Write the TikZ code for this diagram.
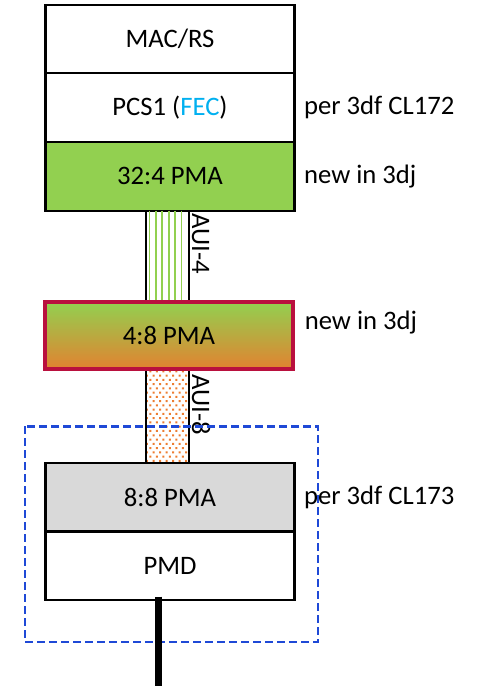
\documentclass[tikz,border=0pt]{standalone}
\usepackage{fontspec}
\setmainfont{Carlito}
\usepackage{xcolor}
\usetikzlibrary{positioning, patterns}

\definecolor{pmagreen}{RGB}{146,208,80}
\definecolor{pmaorange}{RGB}{226,130,48}
\definecolor{pmared}{RGB}{185,16,62}
\definecolor{feccyan}{RGB}{0,176,240}
\definecolor{pmagray}{RGB}{217,217,217}
\definecolor{dotorange}{RGB}{237,125,49}
\definecolor{modblue}{RGB}{31,73,214}

% staggered square dots for the AUI-8 link
\pgfdeclarepatternformonly{auidots}{\pgfqpoint{-1pt}{-1pt}}{\pgfqpoint{5pt}{6pt}}
  {\pgfqpoint{4.9pt}{6.4pt}}
  {\pgfpathrectangle{\pgfqpoint{-0.75pt}{-0.75pt}}{\pgfqpoint{1.5pt}{1.5pt}}
   \pgfpathrectangle{\pgfqpoint{1.7pt}{2.45pt}}{\pgfqpoint{1.5pt}{1.5pt}}
   \pgfusepath{fill}}

\begin{document}
\begin{tikzpicture}[
  x=0.75pt, y=0.75pt,
  node distance=0pt,
  layer/.style={rectangle, draw, line width=1.6pt, fill=white,
                minimum width=186.75pt, minimum height=51.5pt,
                outer sep=0pt, inner sep=0pt,
                font=\fontsize{20}{24}\selectfont},
  note/.style={inner sep=0pt, font=\fontsize{20}{24}\selectfont},
  aui/.style={rectangle, inner sep=0pt, outer sep=0pt, minimum width=32.25pt},
  auiline/.style={line width=1.6pt},
  auilabel/.style={rotate=-90, anchor=south west, inner sep=2pt,
                   font=\fontsize{20}{24}\selectfont},
  modbox/.style={modblue, line width=2pt, dash pattern=on 6pt off 3pt},
  cable/.style={line width=5.25pt}
]
\useasboundingbox (0,0) rectangle (482,-687);

% layer stack
\node[layer] (mac) at (170,-39) {MAC/RS};
\node[layer, below=of mac] (pcs) {PCS1 (\textcolor{feccyan}{FEC})};
\node[layer, fill=pmagreen, below=of pcs] (pma32) {32:4 PMA};
\node[aui, minimum height=66.75pt, below=of pma32, xshift=-1.9pt] (l4) {};
\node[layer, outer sep=0.5\pgflinewidth, draw=pmared, line width=3.4pt,
      top color=pmagreen, bottom color=pmaorange,
      minimum width=186pt, minimum height=50.25pt,
      below=of l4, xshift=1.1pt] (pma48) {4:8 PMA};
\node[aui, minimum height=68.7pt, pattern=auidots, pattern color=dotorange,
      below=of pma48, xshift=-1.1pt] (l8) {};
\node[layer, fill=pmagray, below=of l8, xshift=1.9pt] (pma88) {8:8 PMA};
\node[layer, below=of pma88] (pmd) {PMD};

% AUI links
\foreach \k in {1,...,6}
  \draw[pmagreen, line width=1.3pt] ([xshift=2.6pt+(\k-1)*4.8pt]l4.north west)
    -- ([xshift=2.6pt+(\k-1)*4.8pt]l4.south west);
\draw[auiline] (l4.north west) -- (l4.south west) (l4.north east) -- (l4.south east);
\draw[auiline] (l8.north west) -- (l8.south west) (l8.north east) -- (l8.south east);
\node[auilabel] (aui4) at (l4.north east) {AUI-4};
\node[auilabel] (aui8) at (l8.north east) {AUI-8};

% notes
\node[note, right=7pt of pcs] (n172) {per 3df CL172};
\node[note, right=7pt of pma32] (n32) {new in 3dj};
\node[note, right=7pt of pma48, yshift=9.75pt] (n48) {new in 3dj};
\node[note, right=7pt of pma88] (n173) {per 3df CL173};

% module boundary and fibre
\draw[modbox] ([shift={(-20.5,36.5)}]pma88.north west) rectangle ([shift={(23.5,-42)}]pmd.south east);
\coordinate (fibertop) at ([shift={(-11.7,3.5)}]pmd.south);
\coordinate (fiberend) at ([shift={(-11.7,-85.5)}]pmd.south);
\draw[cable] (fibertop) -- (fiberend);
\end{tikzpicture}
\end{document}
